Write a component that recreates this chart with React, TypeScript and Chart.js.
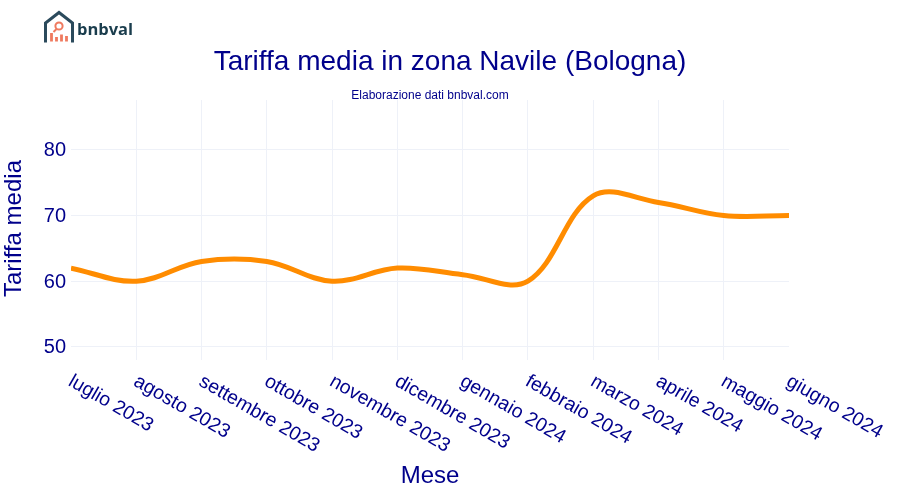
import { useEffect, useRef } from 'react'
import { Chart, registerables } from 'chart.js'

Chart.register(...registerables)

const NAVY = '#00008b'
const GRID = '#eef1f8'
const FONT = '"Liberation Sans", Arial, sans-serif'

const months = [
  'luglio 2023', 'agosto 2023', 'settembre 2023', 'ottobre 2023', 'novembre 2023', 'dicembre 2023',
  'gennaio 2024', 'febbraio 2024', 'marzo 2024', 'aprile 2024', 'maggio 2024', 'giugno 2024',
]
const avgRate = [62, 60, 63, 63, 60, 62, 61, 60, 73, 72, 70, 70]
const yTicks = [50, 60, 70, 80]

// chart.js can only end-anchor rotated x labels, the reference starts them at the tick
const slantedLabels = {
  id: 'slantedLabels',
  afterDraw(chart: any) {
    const { ctx, scales, chartArea } = chart
    ctx.save()
    ctx.font = `19.5px ${FONT}`
    ctx.fillStyle = NAVY
    ctx.textAlign = 'left'
    ctx.textBaseline = 'middle'
    months.forEach((month, i) => {
      ctx.save()
      ctx.translate(scales.x.getPixelForTick(i) - 1, chartArea.bottom + 20)
      ctx.rotate(Math.PI / 6)
      ctx.fillText(month, 0, 0)
      ctx.restore()
    })
    // subtitle sits over the plot centre, not the page centre
    ctx.font = `12px ${FONT}`
    ctx.textAlign = 'center'
    ctx.fillText('Elaborazione dati bnbval.com', (chartArea.left + chartArea.right) / 2, 96)
    // y title is a little above the plot centre in the reference
    ctx.font = `24px ${FONT}`
    ctx.translate(14.5, 228.5)
    ctx.rotate(-Math.PI / 2)
    ctx.fillText('Tariffa media', 0, 0)
    ctx.restore()
  },
}

const App = () => {
  const chartRef = useRef<HTMLCanvasElement>(null)

  useEffect(() => {
    if (!chartRef.current) return

    const chart = new Chart(chartRef.current, {
      type: 'line',
      data: {
        labels: months,
        datasets: [
          {
            label: 'Tariffa media',
            data: avgRate,
            yAxisID: 'y',
            borderColor: '#ff8c00',
            borderWidth: 5,
            borderCapStyle: 'butt',
            pointRadius: 0,
            tension: 0.36,
            fill: false,
            clip: 0,
          },
        ],
      },
      options: {
        responsive: false,
        animation: false,
        devicePixelRatio: 1,
        layout: { padding: 0 },
        plugins: {
          legend: { display: false },
          tooltip: { enabled: false },
          title: {
            display: true,
            text: 'Tariffa media in zona Navile (Bologna)',
            color: NAVY,
            font: { family: FONT, size: 28, weight: 'normal' },
            padding: { top: 45, bottom: 21.4 },
          },
        },
        scales: {
          x: {
            type: 'category',
            offset: false,
            afterFit: (scale: any) => {
              scale.height = 140
            },
            border: { display: false },
            grid: {
              // no line on the first and last month
              color: (c: any) => (c.index === 0 || c.index === months.length - 1 ? 'rgba(0,0,0,0)' : GRID),
              lineWidth: 1,
              drawTicks: false,
            },
            ticks: { display: false },
            title: {
              display: true,
              text: 'Mese',
              color: NAVY,
              font: { family: FONT, size: 24, weight: 'normal' },
              padding: { top: 0, bottom: 9.6 },
            },
          },
          y: {
            min: 48,
            max: 87.6,
            afterBuildTicks: (scale: any) => {
              scale.ticks = yTicks.map((value) => ({ value }))
            },
            afterFit: (scale: any) => {
              scale.width = 71
            },
            border: { display: false },
            grid: { color: GRID, lineWidth: 1, drawTicks: false },
            ticks: {
              color: NAVY,
              padding: 5,
              labelOffset: 1,
              font: { family: FONT, size: 20 },
            },
          },
          // empty axis keeps the right margin without shifting the centred title
          rightMargin: {
            position: 'right',
            afterFit: (scale: any) => {
              scale.width = 111
            },
            border: { display: false },
            grid: { display: false, drawTicks: false },
            ticks: { display: false },
          },
        },
      } as any,
      plugins: [slantedLabels],
    })

    return () => {
      chart.destroy()
    }
  }, [])

  return (
    <div style={{ position: 'absolute', left: 0, top: 0, width: 900, height: 500, background: '#fff' }}>
      <canvas ref={chartRef} width={900} height={500} style={{ display: 'block' }}></canvas>
      <svg style={{ position: 'absolute', left: 40, top: 8 }} width={100} height={40} viewBox="0 0 100 40">
        <path d="M5.5 34.5 V15 L19 4.5 L32.5 15 V34.5" fill="none" stroke="#2b4a5c" strokeWidth={3} />
        <circle cx={19} cy={18} r={3.6} fill="none" stroke="#ef7a5f" strokeWidth={2} />
        <path d="M16.5 21 L13.5 24" stroke="#ef7a5f" strokeWidth={2} />
        <path d="M11.5 33.5 V25 M16.5 33.5 V29 M21.5 33.5 V26.5 M26.5 33.5 V28" stroke="#ef7a5f" strokeWidth={2.8} />
        <text x={37} y={27} fill="#1a3d4d" fontFamily="'Open Sans', sans-serif" fontWeight={700} fontSize={16.5} letterSpacing={0}>
          bnbval
        </text>
      </svg>
    </div>
  )
}

export default App
